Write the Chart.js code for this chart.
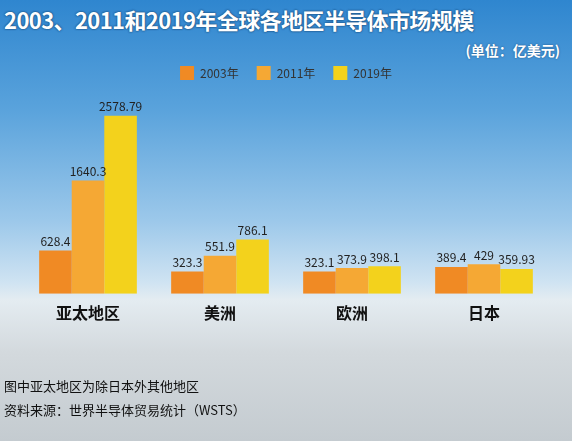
<!DOCTYPE html>
<html><head><meta charset="utf-8">
<script src="https://cdn.jsdelivr.net/npm/chart.js@4"></script>
<style>
  html,body{margin:0;padding:0;}
  body{width:572px;height:441px;position:relative;overflow:hidden;font-family:"Noto Sans CJK SC",sans-serif;
    background:linear-gradient(180deg,#2f86cf 0%,#5aa3dc 25%,#9cc8ea 50%,#cfe3f2 64%,#e4ecf1 68%,#d3d9dd 80%,#c4cbd0 100%);}
  #title{position:absolute;left:4px;top:3px;font-size:22px;font-weight:bold;color:#fff;letter-spacing:-0.6px;
    text-shadow:0 0 2px #1a4f80,0 0 2px #1a4f80;}
  #unit{position:absolute;right:12px;top:40px;font-size:14px;font-weight:bold;color:#fff;text-shadow:0 0 2px #1a4f80;}
  .note{position:absolute;left:4px;font-size:13px;color:#111;}
  canvas{position:absolute;left:0;top:0;}
</style></head>
<body>
<div id="title">2003、2011和2019年全球各地区半导体市场规模</div>
<div id="unit">(单位：亿美元)</div>
<canvas id="c" width="572" height="441"></canvas>
<div class="note" style="top:376px">图中亚太地区为除日本外其他地区</div>
<div class="note" style="top:400px">资料来源：世界半导体贸易统计（WSTS）</div>
<script>
const categories = ['亚太地区', '美洲', '欧洲', '日本'];
const years = ['2003年', '2011年', '2019年'];
const v2003 = [628.4, 323.3, 323.1, 389.4];
const v2011 = [1640.3, 551.9, 373.9, 429];
const v2019 = [2578.79, 786.1, 398.1, 359.93];
const labels2019 = ['2578.79', '786.1', '398.1', '359.93'];

const colors = ['#f08a24', '#f5a834', '#f3d21c'];

const valueLabels = {
  id: 'valueLabels',
  afterDatasetsDraw(chart) {
    const ctx = chart.ctx;
    ctx.save();
    ctx.font = '12px "Noto Sans CJK SC"';
    ctx.fillStyle = '#222';
    ctx.textAlign = 'center';
    ctx.textBaseline = 'bottom';
    chart.data.datasets.forEach((ds, di) => {
      chart.getDatasetMeta(di).data.forEach((bar, i) => {
        const txt = di === 2 ? labels2019[i] : String(ds.data[i]);
        ctx.fillText(txt, bar.x, bar.y - 3);
      });
    });
    ctx.restore();
  }
};

new Chart(document.getElementById('c'), {
  type: 'bar',
  data: {
    labels: categories,
    datasets: [
      { label: years[0], data: v2003, backgroundColor: colors[0] },
      { label: years[1], data: v2011, backgroundColor: colors[1] },
      { label: years[2], data: v2019, backgroundColor: colors[2] }
    ]
  },
  options: {
    responsive: false,
    animation: false,
    layout: { padding: { top: 48, left: 22, right: 22, bottom: 116 } },
    datasets: { bar: { barPercentage: 1, categoryPercentage: 0.74 } },
    plugins: {
      legend: {
        labels: { boxWidth: 14, boxHeight: 14, color: '#333', font: { size: 12, family: '"Noto Sans CJK SC"' }, padding: 18 }
      },
      tooltip: { enabled: false }
    },
    scales: {
      x: {
        grid: { display: false },
        border: { display: false },
        ticks: { color: '#111', font: { size: 16, weight: 'bold', family: '"Noto Sans CJK SC"' }, padding: 2 }
      },
      y: { display: false, min: 0, max: 2950 }
    }
  },
  plugins: [valueLabels]
});
</script>
</body></html>
